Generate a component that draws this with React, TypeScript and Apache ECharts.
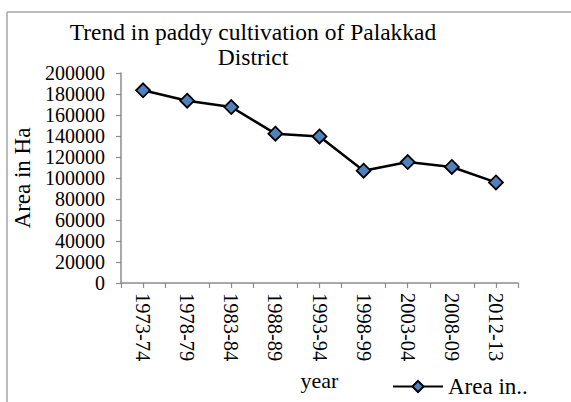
import React, { useEffect, useRef } from "react";
import * as echarts from "echarts";

const categories = ["1973-74", "1978-79", "1983-84", "1988-89", "1993-94", "1998-99", "2003-04", "2008-09", "2012-13"];
const areaValues = [183500, 173600, 167600, 142200, 139600, 107000, 115200, 110500, 95800];
const seriesName = "Area in..";
const titleText = "Trend in paddy cultivation of Palakkad\nDistrict";
const yAxisName = "Area in Ha";
const xAxisName = "year";

const FONT = "'Liberation Serif', 'Times New Roman', serif";

export default function App() {
  const ref = useRef<HTMLDivElement>(null);
  useEffect(() => {
    if (!ref.current) return;
    const chart = echarts.init(ref.current, null, { renderer: "svg" });
    chart.setOption({
      animation: false,
      backgroundColor: "#fff",
      textStyle: { fontFamily: FONT, color: "#000" },
      title: {
        text: titleText,
        left: 248,
        top: 14,
        textAlign: "center",
        textStyle: { fontFamily: FONT, fontSize: 23.5, fontWeight: "normal", color: "#000", lineHeight: 25 },
      },
      grid: { left: 121, right: 53, top: 73, bottom: 119, containLabel: false },
      legend: {
        left: 387,
        top: 370,
        itemWidth: 50,
        itemHeight: 14,
        itemGap: 6,
        textStyle: { fontFamily: FONT, fontSize: 23, color: "#000", padding: [0, 0, 0, 0] },
        data: [seriesName],
      },
      xAxis: [
        {
          type: "category",
          data: categories,
          boundaryGap: true,
          name: xAxisName,
          nameLocation: "middle",
          nameGap: 86,
          nameTextStyle: { fontFamily: FONT, fontSize: 22, color: "#000" },
          axisLine: { lineStyle: { color: "#8c8c8c", width: 1.5 } },
          axisTick: { show: true, length: 5, lineStyle: { color: "#8c8c8c", width: 1.2 } },
          axisLabel: { rotate: -90, fontFamily: FONT, fontSize: 20.5, color: "#000", margin: 10, interval: 0 },
          splitLine: { show: false },
        },
        {
          type: "category",
          data: categories,
          boundaryGap: true,
          position: "bottom",
          axisLine: { show: false },
          axisTick: { show: true, alignWithLabel: true, length: 5, lineStyle: { color: "#8c8c8c", width: 1.2 } },
          axisLabel: { show: false },
          splitLine: { show: false },
        },
      ],
      yAxis: {
        type: "value",
        min: 0,
        max: 200000,
        interval: 20000,
        name: yAxisName,
        nameLocation: "middle",
        nameGap: 86,
        nameRotate: 90,
        nameTextStyle: { fontFamily: FONT, fontSize: 23, color: "#000" },
        axisLine: { show: true, lineStyle: { color: "#8c8c8c", width: 1.5 } },
        axisTick: { show: true, length: 5, lineStyle: { color: "#8c8c8c", width: 1.2 } },
        axisLabel: {
          fontFamily: FONT,
          fontSize: 20,
          lineHeight: 20,
          color: "#000",
          margin: 16,
          showMinLabel: true,
          showMaxLabel: true,
          hideOverlap: false,
          formatter: (v: number) => String(v),
        },
        splitLine: { show: false },
      },
      series: [
        {
          name: seriesName,
          type: "line",
          data: areaValues,
          symbol: "diamond",
          symbolSize: 14,
          lineStyle: { color: "#000", width: 2.5 },
          itemStyle: { color: "#4f81bd", borderColor: "#000", borderWidth: 1.8 },
        },
      ],
      graphic: [
        { type: "line", shape: { x1: 7, y1: 12, x2: 571, y2: 12 }, style: { stroke: "#a6a6a6", lineWidth: 1.5 } },
        { type: "line", shape: { x1: 7, y1: 12, x2: 7, y2: 402 }, style: { stroke: "#a6a6a6", lineWidth: 1.5 } },
      ],
    });
    return () => chart.dispose();
  }, []);
  return <div ref={ref} style={{ position: "absolute", left: 0, top: 0, width: 571, height: 402 }} />;
}
